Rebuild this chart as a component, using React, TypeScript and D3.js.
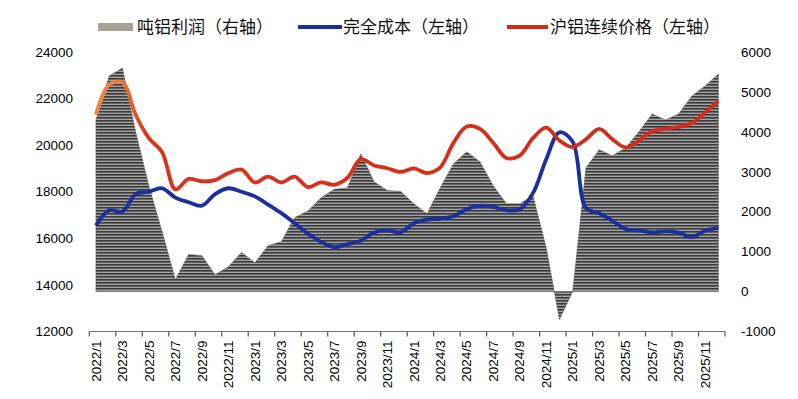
import React from "react";
import * as d3 from "d3";

// categories: monthly 2022/1 .. 2025/12
const years = [2022, 2023, 2024, 2025];
const categories: string[] = [];
years.forEach((y) => {
  for (let m = 1; m <= 12; m++) categories.push(`${y}/${m}`);
});

// 吨铝利润（右轴）
const profit = [
  4300, 5400, 5600, 4000, 2640, 1500, 300, 930, 900, 420, 620, 980,
  720, 1150, 1250, 1850, 2020, 2350, 2560, 2600, 3450, 2750, 2530, 2510,
  2200, 1950, 2600, 3200, 3500, 3250, 2650, 2200, 2200, 2400, 1100, -700,
  0, 3100, 3550, 3400, 3600, 4000, 4450, 4300, 4450, 4900, 5150, 5450,
];

// 完全成本（左轴）
const cost = [
  16550, 17200, 17150, 17900, 18000, 18150, 17750, 17550, 17400, 17900, 18150, 18000,
  17800, 17450, 17080, 16650, 16200, 15850, 15620, 15750, 15900, 16250, 16340, 16260,
  16650, 16800, 16850, 16950, 17250, 17400, 17350, 17200, 17250, 17940, 19400, 20550,
  20150, 17300, 17080, 16750, 16400, 16340, 16250, 16300, 16250, 16050, 16330, 16450,
];

// 沪铝连续价格（左轴）
const price = [
  21300, 22600, 22700, 21300, 20300, 19700, 18100, 18550, 18450, 18500, 18800, 18950,
  18400, 18650, 18400, 18650, 18200, 18400, 18300, 18600, 19400, 19130, 19010, 18850,
  19000, 18800, 19050, 20100, 20800, 20700, 20100, 19450, 19550, 20300, 20750, 20200,
  19920, 20250, 20700, 20250, 19900, 20200, 20600, 20700, 20780, 20950, 21400, 21900,
];

const leftTicks = [12000, 14000, 16000, 18000, 20000, 22000, 24000];
const rightTicks = [-1000, 0, 1000, 2000, 3000, 4000, 5000, 6000];

const W = 798;
const H = 399;
const plotLeft = 89.3;
const plotRight = 725;
const plotTop = 52;
const plotBottom = 331.5;

export default function App() {
  const x = d3
    .scaleBand<number>()
    .domain(d3.range(categories.length))
    .range([plotLeft, plotRight])
    .padding(0);
  const bw = x.bandwidth();
  const cx = (i: number) => (x(i) as number) + bw / 2;
  const yL = d3.scaleLinear().domain([12000, 24000]).range([plotBottom, plotTop]);
  const yR = d3.scaleLinear().domain([-1000, 6000]).range([plotBottom, plotTop]);

  const areaGen = d3
    .area<number>()
    .x((_, i) => cx(i))
    .y0(yR(0))
    .y1((d) => yR(d))
    .curve(d3.curveLinear);

  const lineGen = d3
    .line<number>()
    .x((_, i) => cx(i))
    .y((d) => yL(d))
    .curve(d3.curveCatmullRom.alpha(0.5));

  const font = "'Liberation Sans', Arial, sans-serif";
  const cjk = "'Noto Sans CJK SC', 'Noto Sans', sans-serif";

  const boundaryTicks = d3.range(0, categories.length + 1, 2);

  return (
    <svg
      width={W}
      height={H}
      style={{ position: "absolute", left: 0, top: 0, background: "#fff" }}
    >
      <defs>
        <pattern id="stripes" width="6" height="3" patternUnits="userSpaceOnUse">
          <rect width="6" height="3" fill="#a2a2a2" />
          <rect width="6" height="1.6" fill="#3a3a3a" />
        </pattern>
        <linearGradient id="redGrad" gradientUnits="userSpaceOnUse" x1={plotLeft} x2={plotRight} y1="0" y2="0">
          <stop offset="0" stopColor="#f08a50" />
          <stop offset="0.05" stopColor="#ee7a3c" />
          <stop offset="0.09" stopColor="#d8341c" />
          <stop offset="1" stopColor="#d42a1a" />
        </linearGradient>
      </defs>

      {/* area */}
      <path d={areaGen(profit) || ""} fill="url(#stripes)" stroke="#555" strokeWidth={0.5} />

      {/* lines */}
      <path d={lineGen(cost) || ""} fill="none" stroke="#1b2f9e" strokeWidth={3.8} strokeLinejoin="round" />
      <path d={lineGen(price) || ""} fill="none" stroke="url(#redGrad)" strokeWidth={3.8} strokeLinejoin="round" />

      {/* x axis */}
      <line x1={plotLeft} x2={plotRight} y1={plotBottom} y2={plotBottom} stroke="#777" strokeWidth={1.2} />
      {boundaryTicks.map((b) => {
        const xx = plotLeft + b * bw;
        return <line key={b} x1={xx} x2={xx} y1={plotBottom} y2={plotBottom + 5} stroke="#555" strokeWidth={1.2} />;
      })}
      {categories.map((c, i) =>
        i % 2 === 0 ? (
          <text
            key={c}
            transform={`translate(${cx(i)},${plotBottom + 9}) rotate(-90)`}
            textAnchor="end"
            dy="0.35em"
            fontFamily={font}
            fontSize={13.5}
            fill="#000"
          >
            {c}
          </text>
        ) : null
      )}

      {/* left axis labels */}
      {leftTicks.map((t) => (
        <text
          key={t}
          x={73}
          y={yL(t)}
          dy="0.35em"
          textAnchor="end"
          fontFamily={font}
          fontSize={13.5}
          fill="#000"
        >
          {t}
        </text>
      ))}

      {/* right axis labels */}
      {rightTicks.map((t) => (
        <text
          key={t}
          x={741}
          y={yR(t)}
          dy="0.35em"
          textAnchor="start"
          fontFamily={font}
          fontSize={13.5}
          fill="#000"
        >
          {t}
        </text>
      ))}

      {/* legend */}
      <rect x={98} y={23} width={35} height={8} fill="#a8a294" />
      <text x={137} y={27} dy="0.35em" fontFamily={cjk} fontSize={17} fill="#111">
        吨铝利润（右轴）
      </text>
      <line x1={298} x2={342} y1={27} y2={27} stroke="#1b2f9e" strokeWidth={4} />
      <text x={343} y={27} dy="0.35em" fontFamily={cjk} fontSize={17} fill="#111">
        完全成本（左轴）
      </text>
      <line x1={507} x2={548} y1={27} y2={27} stroke="#d42a1a" strokeWidth={4} />
      <text x={550} y={27} dy="0.35em" fontFamily={cjk} fontSize={17} fill="#111">
        沪铝连续价格（左轴）
      </text>
    </svg>
  );
}
